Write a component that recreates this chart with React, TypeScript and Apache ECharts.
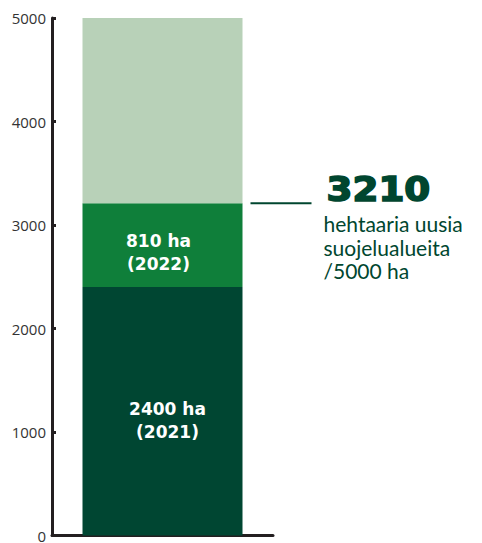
import React, { useEffect, useRef } from "react";
import * as echarts from "echarts";

const categories = ["Suojelualueet"];
const area2021 = [2400];
const area2022 = [810];
const remaining = [1790];
const goal = 5000;
const total = 3210;
const labels2021 = ["2400 ha\n(2021)"];
const labels2022 = ["810 ha\n(2022)"];
const annotationLines = ["hehtaaria uusia", "suojelualueita", "/5000 ha"];

export default function App() {
  const ref = useRef<HTMLDivElement>(null);
  useEffect(() => {
    document.body.style.margin = "0";
    document.body.style.overflow = "hidden";
    const chart = echarts.init(ref.current!, null, { renderer: "svg" });
    const labelFont = "'DejaVu Sans', Verdana, sans-serif";
    const bodyFont = "Lato, 'Noto Sans', sans-serif";
    chart.setOption({
      animation: false,
      grid: { left: 52, right: 209, top: 18, bottom: 2, containLabel: false },
      xAxis: {
        type: "category",
        data: categories,
        axisLine: { lineStyle: { color: "#231f20", width: 3 } },
        axisTick: { show: false },
        axisLabel: { show: false },
      },
      yAxis: {
        type: "value",
        min: 0,
        max: goal,
        interval: 1000,
        splitLine: { show: false },
        axisLine: { show: true, lineStyle: { color: "#231f20", width: 3 } },
        axisTick: { show: true, inside: true, length: 4, lineStyle: { color: "#231f20", width: 3 } },
        axisLabel: { color: "#333", fontSize: 15, fontFamily: "'Open Sans', sans-serif", margin: 6, formatter: (v: number) => String(v) },
      },
      series: [
        {
          type: "bar",
          stack: "a",
          data: area2021,
          barWidth: 160,
          itemStyle: { color: "#004632" },
          label: {
            show: true,
            position: "inside",
            offset: [5, 9],
            formatter: () => labels2021[0],
            color: "#fff",
            fontWeight: "bold",
            fontSize: 17,
            lineHeight: 23,
            fontFamily: labelFont,
          },
        },
        {
          type: "bar",
          stack: "a",
          data: area2022,
          barWidth: 160,
          itemStyle: { color: "#0f7f3a" },
          label: {
            show: true,
            position: "inside",
            offset: [-4, 7],
            formatter: () => labels2022[0],
            color: "#fff",
            fontWeight: "bold",
            fontSize: 17,
            lineHeight: 23,
            fontFamily: labelFont,
          },
        },
        {
          type: "bar",
          stack: "a",
          data: remaining,
          barWidth: 160,
          itemStyle: { color: "#b8d1b8" },
        },
      ],
    });
    const y = chart.convertToPixel({ yAxisIndex: 0 }, total) as number;
    const xc = chart.convertToPixel({ xAxisIndex: 0 }, categories[0]) as number;
    const x0 = xc + 88;
    chart.setOption({
      graphic: [
        { type: "line", shape: { x1: x0, y1: y, x2: x0 + 61, y2: y }, style: { stroke: "#00462f", lineWidth: 2 } },
        {
          type: "text",
          x: x0 + 76,
          y: y - 14,
          scaleX: 1.13,
          style: {
            text: String(total),
            fill: "#00462f",
            stroke: "#00462f",
            lineWidth: 1.6,
            font: `bold 33px ${labelFont}`,
            verticalAlign: "middle",
          },
        },
        {
          type: "text",
          x: x0 + 73,
          y: y + 44,
          style: {
            text: annotationLines.join("\n"),
            fill: "#00462f",
            font: `21px ${bodyFont}`,
            lineHeight: 23.5,
            verticalAlign: "middle",
          },
        },
      ],
    });
    return () => chart.dispose();
  }, []);
  return <div ref={ref} style={{ width: 482, height: 543 }} />;
}
